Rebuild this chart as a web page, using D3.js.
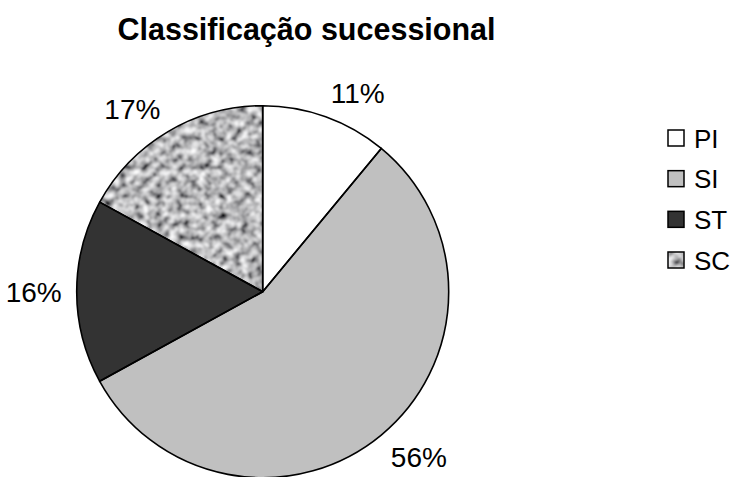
<!DOCTYPE html>
<html>
<head>
<meta charset="utf-8">
<script src="https://cdn.jsdelivr.net/npm/d3@7/dist/d3.min.js"></script>
<style>
  html, body { margin: 0; padding: 0; background: #ffffff; }
  svg { display: block; font-family: "Liberation Sans", Arial, sans-serif; }
</style>
</head>
<body>
<svg id="chart" width="738" height="477"></svg>
<script>
// Successional classification shares
const categories = ["PI", "SI", "ST", "SC"];
const shares = [11, 56, 16, 17];
const percentLabels = ["11%", "56%", "16%", "17%"];
const chartTitle = "Classificação sucessional";

const width = 738, height = 477;
const cx = 262.7, cy = 291.7, radius = 186;

const svg = d3.select("#chart");

// Grainy grey texture used for the SC slice
const defs = svg.append("defs");
const grain = defs.append("filter")
  .attr("id", "grain")
  .attr("x", 0).attr("y", 0).attr("width", 1).attr("height", 1);
grain.append("feTurbulence")
  .attr("type", "fractalNoise")
  .attr("baseFrequency", 0.14)
  .attr("numOctaves", 3)
  .attr("seed", 11)
  .attr("result", "noise");
grain.append("feColorMatrix")
  .attr("in", "noise")
  .attr("type", "matrix")
  .attr("values", "1.7 0 0 0 -0.37  1.7 0 0 0 -0.37  1.7 0 0 0 -0.36  0 0 0 0 1")
  .attr("result", "grey");
grain.append("feGaussianBlur")
  .attr("in", "grey")
  .attr("stdDeviation", 0.8)
  .attr("result", "soft");
grain.append("feComposite")
  .attr("in", "soft")
  .attr("in2", "SourceGraphic")
  .attr("operator", "in");

const fills = d3.scaleOrdinal()
  .domain(categories)
  .range(["#ffffff", "#c0c0c0", "#333333", "#a8a8a8"]);
const textured = new Set(["SC"]);

const data = categories.map((c, i) => ({ cat: c, value: shares[i], label: percentLabels[i] }));

const pie = d3.pie().sort(null).value(d => d.value);
const arcs = pie(data);
const arc = d3.arc().innerRadius(0).outerRadius(radius);

const g = svg.append("g").attr("transform", `translate(${cx},${cy})`);

// Slice fills
g.selectAll("path.fill")
  .data(arcs)
  .join("path")
  .attr("class", "fill")
  .attr("d", arc)
  .attr("fill", d => fills(d.data.cat))
  .attr("filter", d => textured.has(d.data.cat) ? "url(#grain)" : null);

// Slice outlines
g.selectAll("path.edge")
  .data(arcs)
  .join("path")
  .attr("class", "edge")
  .attr("d", arc)
  .attr("fill", "none")
  .attr("stroke", "#000")
  .attr("stroke-width", 1.6)
  .attr("stroke-linejoin", "round");

// Percentage labels: the label corner nearest the pie sits on a ring just outside the rim
const labelFont = 28;
const labelR = 201;
const capH = labelFont * 0.716;
const clamp = v => Math.max(-1, Math.min(1, v));
g.selectAll("text.pct")
  .data(arcs)
  .join("text")
  .attr("class", "pct")
  .attr("font-size", labelFont)
  .attr("fill", "#000")
  .attr("text-anchor", "middle")
  .text(d => d.data.label)
  .each(function (d) {
    const a = (d.startAngle + d.endAngle) / 2;
    const w = this.getBBox().width;
    const px = labelR * Math.sin(a);
    const py = -labelR * Math.cos(a);
    const sx = clamp(Math.sin(a) * 3);
    const t = clamp(Math.cos(a) * 3);
    d3.select(this)
      .attr("x", px + (w / 2) * sx)
      .attr("y", py + capH * (1 - t) / 2);
  });

// Title
svg.append("text")
  .attr("x", 306.5)
  .attr("y", 40)
  .attr("text-anchor", "middle")
  .attr("font-size", 30.5)
  .attr("font-weight", "bold")
  .attr("fill", "#000")
  .text(chartTitle);

// Legend
const legendY = d3.scalePoint().domain(categories).range([138, 260]);
const legend = svg.append("g");
const rows = legend.selectAll("g")
  .data(categories)
  .join("g")
  .attr("transform", d => `translate(668,${legendY(d)})`);
rows.append("rect")
  .attr("x", 0).attr("y", -8)
  .attr("width", 16).attr("height", 16)
  .attr("fill", d => fills(d))
  .attr("filter", d => textured.has(d) ? "url(#grain)" : null);
rows.append("rect")
  .attr("x", 0).attr("y", -8)
  .attr("width", 16).attr("height", 16)
  .attr("fill", "none")
  .attr("stroke", "#000")
  .attr("stroke-width", 1.5);
rows.append("text")
  .attr("x", 26)
  .attr("y", 9.5)
  .attr("font-size", 26)
  .attr("fill", "#000")
  .text(d => d);
</script>
</body>
</html>
